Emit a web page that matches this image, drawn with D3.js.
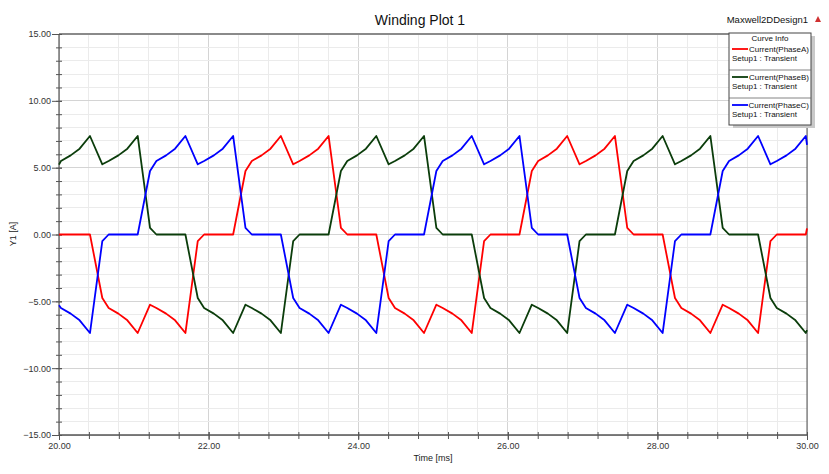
<!DOCTYPE html>
<html><head><meta charset="utf-8">
<script src="https://cdn.jsdelivr.net/npm/d3@7"></script>
<style>
html,body{margin:0;padding:0;background:#fff;}
svg{display:block;font-family:"Liberation Sans",Arial,sans-serif;}
</style></head>
<body>
<svg id="chart" width="829" height="474"></svg>
<script>
// ---- data ----
const time = [20.000,20.026,20.156,20.276,
20.414,20.579,20.664,20.794,20.914,
21.052,21.217,21.302,21.432,21.552,
21.690,21.855,21.940,22.070,22.190,
22.328,22.493,22.578,22.708,22.828,
22.966,23.131,23.216,23.346,23.466,
23.604,23.769,23.854,23.984,24.104,
24.242,24.407,24.492,24.622,24.742,
24.880,25.045,25.130,25.260,25.380,
25.518,25.683,25.768,25.898,26.018,
26.156,26.321,26.406,26.536,26.656,
26.794,26.959,27.044,27.174,27.294,
27.432,27.597,27.682,27.812,27.932,
28.070,28.235,28.320,28.450,28.570,
28.708,28.873,28.958,29.088,29.208,
29.346,29.511,29.596,29.726,29.846,
29.984,30.000];

const phaseA = [0,0,0,0,
0,-4.75,-5.5,-5.92,-6.42,
-7.37,-5.25,-5.5,-5.92,-6.42,
-7.37,-0.5,0,0,0,
0,4.75,5.5,5.92,6.42,
7.37,5.25,5.5,5.92,6.42,
7.37,0.5,0,0,0,
0,-4.75,-5.5,-5.92,-6.42,
-7.37,-5.25,-5.5,-5.92,-6.42,
-7.37,-0.5,0,0,0,
0,4.75,5.5,5.92,6.42,
7.37,5.25,5.5,5.92,6.42,
7.37,0.5,0,0,0,
0,-4.75,-5.5,-5.92,-6.42,
-7.37,-5.25,-5.5,-5.92,-6.42,
-7.37,-0.5,0,0,0,
0,0.46];

const phaseB = [5.23,5.5,5.92,6.42,
7.37,5.25,5.5,5.92,6.42,
7.37,0.5,0,0,0,
0,-4.75,-5.5,-5.92,-6.42,
-7.37,-5.25,-5.5,-5.92,-6.42,
-7.37,-0.5,0,0,0,
0,4.75,5.5,5.92,6.42,
7.37,5.25,5.5,5.92,6.42,
7.37,0.5,0,0,0,
0,-4.75,-5.5,-5.92,-6.42,
-7.37,-5.25,-5.5,-5.92,-6.42,
-7.37,-0.5,0,0,0,
0,4.75,5.5,5.92,6.42,
7.37,5.25,5.5,5.92,6.42,
7.37,0.5,0,0,0,
0,-4.75,-5.5,-5.92,-6.42,
-7.37,-7.16];

const phaseC = [-5.3,-5.5,-5.92,-6.42,
-7.37,-0.5,0,0,0,
0,4.75,5.5,5.92,6.42,
7.37,5.25,5.5,5.92,6.42,
7.37,0.5,0,0,0,
0,-4.75,-5.5,-5.92,-6.42,
-7.37,-5.25,-5.5,-5.92,-6.42,
-7.37,-0.5,0,0,0,
0,4.75,5.5,5.92,6.42,
7.37,5.25,5.5,5.92,6.42,
7.37,0.5,0,0,0,
0,-4.75,-5.5,-5.92,-6.42,
-7.37,-5.25,-5.5,-5.92,-6.42,
-7.37,-0.5,0,0,0,
0,4.75,5.5,5.92,6.42,
7.37,5.25,5.5,5.92,6.42,
7.37,6.7];

const seriesNames = ["Current(PhaseA)","Current(PhaseB)","Current(PhaseC)"];
const seriesSetup = "Setup1 : Transient";
const seriesColors = ["#ff0000","#0b3d0b","#0000ff"];
const xTicks = [20,22,24,26,28,30];
const yTicks = [-15,-10,-5,0,5,10,15];
const xDomain = [20,30];
const yDomain = [-15,15];
const titleText = "Winding Plot 1";
const designText = "Maxwell2DDesign1";
const xLabel = "Time [ms]";
const yLabel = "Y1 [A]";

// ---- layout ----
const svg = d3.select("#chart");
const L = 59, R = 807, T = 34, B = 435;
const x = d3.scaleLinear(xDomain, [L, R]);
const y = d3.scaleLinear(yDomain, [B, T]);

const xMinor = d3.range(20, 30.0001, 0.4);
const yMinor = d3.range(-15, 15.0001, 1);

// grid
const grid = svg.append("g");
grid.selectAll(".vx").data(xMinor).join("line")
  .attr("x1", d => x(d)).attr("x2", d => x(d)).attr("y1", T).attr("y2", B)
  .attr("stroke", d => Math.abs((d - 20) / 2 - Math.round((d - 20) / 2)) < 1e-6 ? "#d4d4d4" : "#ebebeb")
  .attr("stroke-width", 1).attr("shape-rendering", "crispEdges");
grid.selectAll(".hy").data(yMinor).join("line")
  .attr("x1", L).attr("x2", R).attr("y1", d => y(d)).attr("y2", d => y(d))
  .attr("stroke", d => Math.abs(d % 5) < 1e-6 ? "#d4d4d4" : "#ebebeb")
  .attr("stroke-width", 1).attr("shape-rendering", "crispEdges");

// frame
svg.append("line").attr("x1", L).attr("x2", R).attr("y1", T).attr("y2", T)
  .attr("stroke", "#8a8a8a").attr("stroke-width", 2);
svg.append("line").attr("x1", R).attr("x2", R).attr("y1", T).attr("y2", B)
  .attr("stroke", "#555").attr("stroke-width", 1);

// axes
const fmt = d3.format(".2f");
const yAxisMinor = svg.append("g").attr("transform", `translate(${L+3},0)`)
  .call(d3.axisLeft(y).tickValues(yMinor).tickSize(6).tickFormat(""));
const yAxis = svg.append("g").attr("transform", `translate(${L+3},0)`)
  .call(d3.axisLeft(y).tickValues(yTicks).tickSize(10).tickPadding(1).tickFormat(fmt));
const xAxisMinor = svg.append("g").attr("transform", `translate(0,${B-3})`)
  .call(d3.axisBottom(x).tickValues(xMinor).tickSize(7).tickFormat(""));
const xAxis = svg.append("g").attr("transform", `translate(0,${B-3})`)
  .call(d3.axisBottom(x).tickValues(xTicks).tickSize(8).tickPadding(3).tickFormat(fmt));
[yAxisMinor, yAxis, xAxisMinor, xAxis].forEach(g => {
  g.select(".domain").remove();
  g.selectAll("line").attr("stroke", "#555");
  g.selectAll("text").attr("fill", "#333").style("font-size", "9px")
    .style("font-family", '"Liberation Sans",Arial,sans-serif');
});
svg.append("line").attr("x1", L).attr("x2", L).attr("y1", T).attr("y2", B)
  .attr("stroke", "#555").attr("stroke-width", 1.2);
svg.append("line").attr("x1", L).attr("x2", R).attr("y1", B).attr("y2", B)
  .attr("stroke", "#555").attr("stroke-width", 1.5);

// curves
const line = d3.line().x(d => x(d[0])).y(d => y(d[1]));
[phaseA, phaseB, phaseC].forEach((vals, i) => {
  svg.append("path")
    .datum(time.map((t, j) => [t, vals[j]]))
    .attr("d", line).attr("fill", "none")
    .attr("stroke", seriesColors[i]).attr("stroke-width", 1.8)
    .attr("stroke-linejoin", "round");
});

// titles
svg.append("text").attr("x", 420).attr("y", 25).attr("text-anchor", "middle")
  .style("font-size", "14px").attr("fill", "#111").text(titleText);
svg.append("text").attr("x", 808).attr("y", 23).attr("text-anchor", "end")
  .style("font-size", "9.5px").attr("fill", "#111").text(designText);
svg.append("path").attr("d", "M818,16 L821,22 L815,22 Z").attr("fill", "#d03030");
svg.append("text").attr("x", 433).attr("y", 461).attr("text-anchor", "middle")
  .style("font-size", "9px").attr("fill", "#222").text(xLabel);
svg.append("text").attr("transform", "translate(16,234) rotate(-90)").attr("text-anchor", "middle")
  .style("font-size", "9px").attr("fill", "#222").text(yLabel);

// legend
const lg = svg.append("g");
const lx = 729, ly = 33, lw = 82, lh = 92;
lg.append("rect").attr("x", lx + 4).attr("y", ly + 3).attr("width", lw).attr("height", lh).attr("fill", "#c9c9c9");
lg.append("rect").attr("x", lx).attr("y", ly).attr("width", lw).attr("height", lh)
  .attr("fill", "#fff").attr("stroke", "#444").attr("stroke-width", 1);
lg.append("text").attr("x", lx + lw / 2).attr("y", ly + 8).attr("text-anchor", "middle")
  .style("font-size", "8px").attr("fill", "#111").text("Curve Info");
seriesNames.forEach((n, i) => {
  const ry = ly + 16 + i * 28;
  lg.append("line").attr("x1", lx + 3).attr("x2", lx + 19).attr("y1", ry).attr("y2", ry)
    .attr("stroke", seriesColors[i]).attr("stroke-width", 1.8);
  lg.append("text").attr("x", lx + 80).attr("y", ry + 3).attr("text-anchor", "end")
    .style("font-size", "8px").attr("fill", "#111").text(n);
  lg.append("text").attr("x", lx + 3).attr("y", ry + 12).style("font-size", "8px")
    .attr("fill", "#111").text(seriesSetup);
  if (i < 2) lg.append("line").attr("x1", lx).attr("x2", lx + lw).attr("y1", ry + 21).attr("y2", ry + 21)
    .attr("stroke", "#666").attr("stroke-width", 0.8);
});
</script>
</body></html>
